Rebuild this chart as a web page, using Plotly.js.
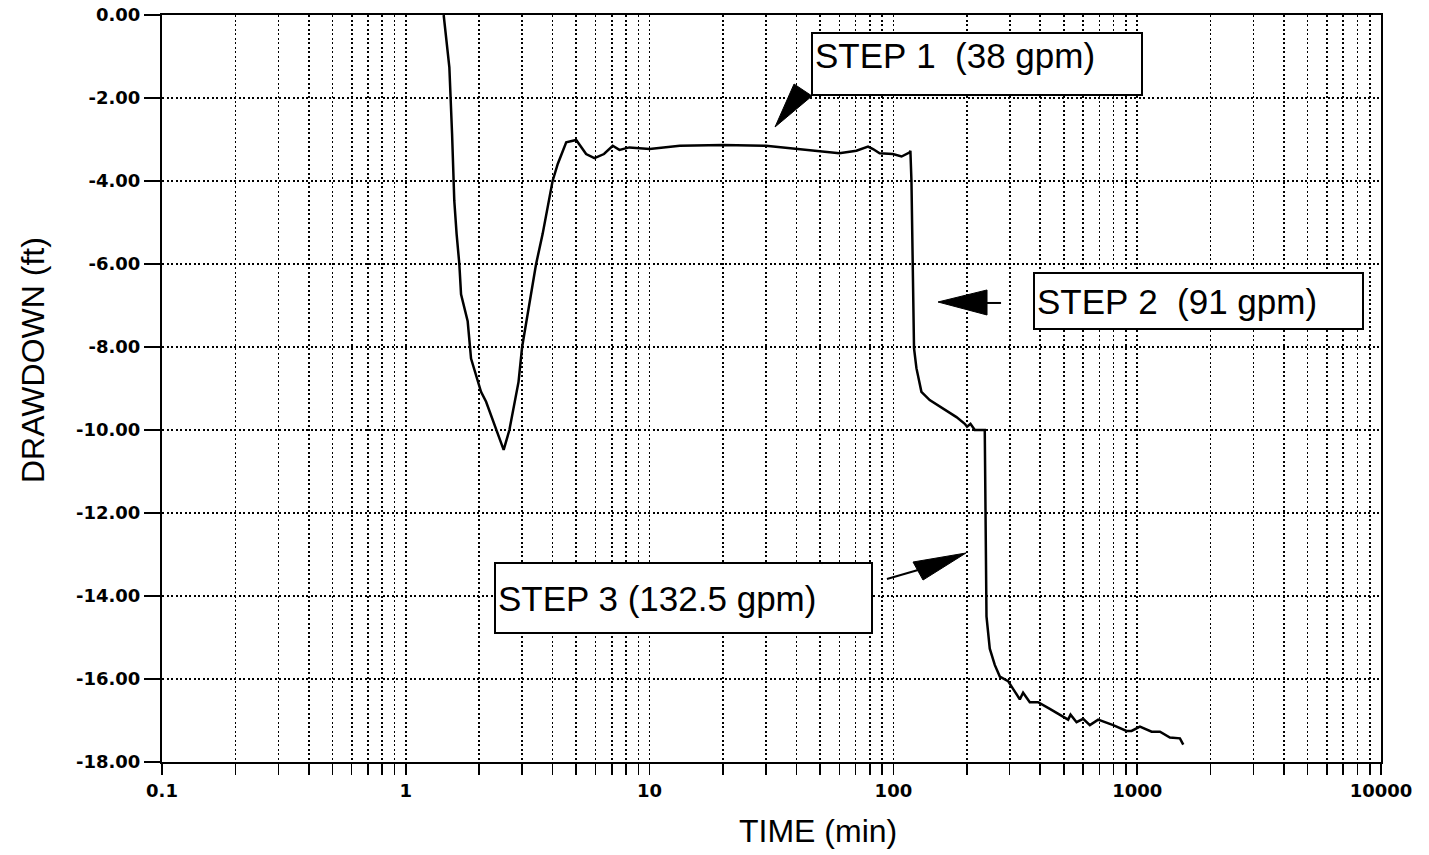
<!DOCTYPE html>
<html>
<head>
<meta charset="utf-8">
<script src="https://cdn.plot.ly/plotly-3.0.1.min.js"></script>
<style>html,body{margin:0;padding:0;background:#fff;}#chart{width:1429px;height:855px;}</style>
</head>
<body>
<div id="chart"></div>
<script>
// Elapsed time (min)
const timeMin = [1.43, 1.509, 1.548, 1.581, 1.616, 1.658, 1.685, 1.794, 1.852, 2.035, 2.135, 2.52,
  2.66, 2.90, 3.0, 3.42, 3.64, 4.0, 4.2, 4.55, 5.0, 5.49, 5.94, 6.5, 7.06, 7.52, 8.26, 10, 13.3, 20, 30, 40,
  55, 60, 70.5, 78.7, 82.5, 87.8, 99.5, 108, 116.7, 117.4,
  118.6, 119.7, 121.5, 124.3, 130.3, 140.9, 159.8, 181.4, 196.2, 200.5, 207.1, 215.7, 237,
  239, 240, 240.9, 248.5, 260.5, 273.2, 295.4, 330, 340.4, 362.6, 392.2, 438.1, 520.9, 532.9, 564,
  600.3, 639.5, 691.6, 797, 904, 948, 1026, 1146, 1240, 1362, 1497, 1545];
// Drawdown (ft)
const drawdownFt = [0.0, -1.26, -2.86, -4.48, -5.28, -6.00, -6.73, -7.38, -8.28, -9.08, -9.32, -10.48,
  -10.0, -8.84, -8.0, -6.01, -5.28, -4.0, -3.59, -3.07, -3.01, -3.35, -3.45, -3.35, -3.15, -3.25, -3.19, -3.23, -3.15, -3.13, -3.15, -3.23,
  -3.31, -3.33, -3.27, -3.17, -3.23, -3.33, -3.35, -3.41, -3.31, -3.27,
  -4.0, -6.0, -8.03, -8.51, -9.08, -9.28, -9.48, -9.69, -9.85, -9.92, -9.85, -10.0, -10.0,
  -12.07, -14.0, -14.49, -15.27, -15.66, -15.94, -16.05, -16.49, -16.33, -16.56, -16.56, -16.72, -16.98, -16.86, -17.04,
  -16.96, -17.11, -16.98, -17.11, -17.25, -17.25, -17.15, -17.27, -17.27, -17.41, -17.43, -17.58];

// Axis ticks
const decades = [0.1, 1, 10, 100, 1000, 10000];
const decadeLabels = ['0.1', '1', '10', '100', '1000', '10000'];
const yTickVals = [0, -2, -4, -6, -8, -10, -12, -14, -16, -18];
const yTickText = ['0.00', '-2.00', '-4.00', '-6.00', '-8.00', '-10.00', '-12.00', '-14.00', '-16.00', '-18.00'];

// Step labels
const stepLabels = ['STEP&nbsp;1&nbsp;&nbsp;(38 gpm)', 'STEP&nbsp;2&nbsp;&nbsp;(91 gpm)', 'STEP 3 (132.5&nbsp;gpm)'];

// Build log tick grid (1..9 per decade)
const xTickVals = [], xTickText = [];
for (let d = 0; d < decades.length; d++) {
  const base = decades[d];
  xTickVals.push(base); xTickText.push(decadeLabels[d]);
  if (d < decades.length - 1) {
    for (let m = 2; m <= 9; m++) { xTickVals.push(base * m); xTickText.push(''); }
  }
}

const L = 162, R = 1381, T = 15, B = 762;
const px = x => (x - L) / (R - L);
const py = y => (B - y) / (B - T);
const path = pts => 'M' + pts.map(p => px(p[0]).toFixed(4) + ',' + py(p[1]).toFixed(4)).join('L') + 'Z';
const seg = (a, b) => 'M' + px(a[0]).toFixed(4) + ',' + py(a[1]).toFixed(4) + 'L' + px(b[0]).toFixed(4) + ',' + py(b[1]).toFixed(4);

const tickFont = {family: 'DejaVu Sans', size: 18, color: '#000', weight: 'bold'};
const gridDash = '2px,2.5px';

const data = [{
  x: timeMin, y: drawdownFt, type: 'scatter', mode: 'lines',
  line: {color: '#000', width: 2.5}, hoverinfo: 'x+y'
}];

const boxStyle = {
  xref: 'paper', yref: 'paper', xanchor: 'left', yanchor: 'top', showarrow: false,
  bgcolor: '#fff', bordercolor: '#000', borderwidth: 2, borderpad: 2, align: 'left',
  font: {family: 'Liberation Sans, Arial, sans-serif', size: 35, color: '#000'}
};

const layout = {
  width: 1429, height: 855,
  margin: {l: L, r: 1429 - R, t: T, b: 855 - B},
  paper_bgcolor: '#fff', plot_bgcolor: '#fff',
  showlegend: false,
  xaxis: {
    type: 'log', range: [-1, 4], tickmode: 'array', tickvals: xTickVals, ticktext: xTickText,
    ticks: 'outside', ticklen: 11, tickwidth: 1.5, tickcolor: '#000',
    showgrid: true, gridcolor: '#000', gridwidth: 1.6, griddash: gridDash,
    showline: true, linecolor: '#000', linewidth: 2, mirror: true, zeroline: false,
    tickfont: tickFont
  },
  yaxis: {
    range: [-18, 0], tickmode: 'array', tickvals: yTickVals, ticktext: yTickText,
    ticks: 'outside', ticklen: 16, tickwidth: 1.5, tickcolor: '#000',
    showgrid: true, gridcolor: '#000', gridwidth: 1.6, griddash: gridDash,
    showline: true, linecolor: '#000', linewidth: 2, mirror: true, zeroline: false,
    tickfont: tickFont
  },
  annotations: [
    Object.assign({}, boxStyle, {text: stepLabels[0], x: px(811), y: py(32), width: 324, height: 56, valign: 'top'}),
    Object.assign({}, boxStyle, {text: stepLabels[1], x: px(1033), y: py(272), width: 323, height: 50}),
    Object.assign({}, boxStyle, {text: stepLabels[2], x: px(494), y: py(562), width: 371, height: 64}),
    {text: 'TIME (min)', xref: 'paper', yref: 'paper', x: px(818), y: py(831), showarrow: false,
     xanchor: 'center', yanchor: 'middle', font: {family: 'Liberation Sans, Arial, sans-serif', size: 32, color: '#000'}},
    {text: 'DRAWDOWN (ft)', xref: 'paper', yref: 'paper', x: px(33), y: py(360), showarrow: false, textangle: -90,
     xanchor: 'center', yanchor: 'middle', font: {family: 'Liberation Sans, Arial, sans-serif', size: 32, color: '#000'}}
  ],
  shapes: [
    {type: 'path', xref: 'paper', yref: 'paper', path: path([[775,127],[794,84],[812,96]]), fillcolor: '#000', line: {color: '#000', width: 1}},
    {type: 'path', xref: 'paper', yref: 'paper', path: path([[938,302],[987,290],[987,315]]), fillcolor: '#000', line: {color: '#000', width: 1}},
    {type: 'path', xref: 'paper', yref: 'paper', path: seg([986,303],[1001,303]), line: {color: '#000', width: 2}},
    {type: 'path', xref: 'paper', yref: 'paper', path: path([[966,553],[913,562],[923,580]]), fillcolor: '#000', line: {color: '#000', width: 1}},
    {type: 'path', xref: 'paper', yref: 'paper', path: seg([887,579],[918,570]), line: {color: '#000', width: 2}}
  ]
};

Plotly.newPlot('chart', data, layout, {displayModeBar: false, staticPlot: true});
</script>
</body>
</html>
